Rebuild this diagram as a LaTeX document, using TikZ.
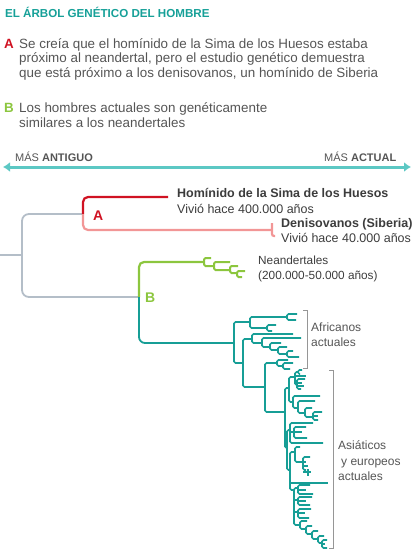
\documentclass[tikz,border=0pt]{standalone}
\usepackage{fontspec}
\setmainfont{Liberation Sans}
\usetikzlibrary{arrows.meta}
\definecolor{titleteal}{RGB}{22,160,152}
\definecolor{axisteal}{RGB}{92,200,196}
\definecolor{txtgray}{RGB}{85,85,85}
\definecolor{darktxt}{RGB}{60,60,60}
\definecolor{redA}{RGB}{208,18,34}
\definecolor{pinkA}{RGB}{242,150,150}
\definecolor{greenB}{RGB}{140,198,62}
\definecolor{tealtree}{RGB}{23,158,150}
\definecolor{graytree}{RGB}{180,190,200}
\definecolor{brk}{RGB}{150,150,150}
\newcommand\bk[6][]{\draw[#1] (#5,#3) -- (#2,#3) -- (#2,#4) -- (#6,#4);}
\newcommand\lf[3]{\draw (#1,#2) -- (#3,#2);}
\begin{document}
\begin{tikzpicture}[x=1pt,y=-1pt,
  txt/.style={inner sep=0pt, anchor=base west, text=txtgray, font=\fontsize{13.4}{14.5}\selectfont},
  lbl/.style={inner sep=0pt, anchor=base west, text=darktxt, font=\fontsize{12.5}{14}\selectfont},
  lblb/.style={lbl, font=\bfseries\fontsize{12.5}{14}\selectfont},
  small/.style={inner sep=0pt, anchor=base west, text=txtgray, font=\fontsize{12}{14}\selectfont},
  axl/.style={inner sep=0pt, anchor=base west, text=txtgray, font=\fontsize{11}{12}\selectfont},
  gbranch/.style={draw=graytree, line width=1.8pt, rounded corners=7pt},
  rbranch/.style={draw=redA, line width=2.2pt, rounded corners=5pt},
  pbranch/.style={draw=pinkA, line width=2.2pt, rounded corners=5pt},
  gnbranch/.style={draw=greenB, line width=2.2pt, rounded corners=5pt},
  tbranch/.style={draw=tealtree, line width=1.8pt, rounded corners=6pt},
  brkline/.style={draw=brk, line width=0.8pt},
]
\useasboundingbox (0,0) rectangle (414,560);

% title and notes
\node[inner sep=0pt, anchor=base west, text=titleteal, font=\bfseries\fontsize{11.6}{13}\selectfont] (title) at (5,17) {EL ÁRBOL GENÉTICO DEL HOMBRE};
\node[inner sep=0pt, anchor=base west, text=redA, font=\bfseries\fontsize{13.4}{13}\selectfont] (la) at (4,48) {A};
\node[txt] (a1) at (19,48) {Se creía que el homínido de la Sima de los Huesos estaba};
\node[txt] (a2) at (19,62.5) {próximo al neandertal, pero el estudio genético demuestra};
\node[txt] (a3) at (19,77) {que está próximo a los denisovanos, un homínido de Siberia};
\node[inner sep=0pt, anchor=base west, text=greenB, font=\bfseries\fontsize{13.4}{13}\selectfont] (lb) at (4,112) {B};
\node[txt] (b1) at (19,112) {Los hombres actuales son genéticamente};
\node[txt] (b2) at (19,127) {similares a los neandertales};

% axis
\node[axl] (ant) at (15,161) {MÁS \textbf{ANTIGUO}};
\node[axl] (act) at (324,161) {MÁS \textbf{ACTUAL}};
\coordinate (axl) at (3,167);
\coordinate (axr) at (411,167);
\draw[axisteal, line width=3pt, {Latex[length=7pt,width=10pt]}-{Latex[length=7pt,width=10pt]}] (axl) -- (axr);

% gray root
\draw[gbranch] (0,255) -- (22,255);
\draw[gbranch] (83,214) -- (22,214) -- (22,297) -- (139,297);

% A clade
\draw[rbranch] (83,214) -- (83,197) -- (168,197);
\draw[pbranch] (83,214) -- (83,230) -- (272,230);
\draw[pinkA, line width=2.2pt, rounded corners=2pt] (272,223) -- (272,236) -- (275,236);
\node[inner sep=0pt, anchor=base west, text=redA, font=\bfseries\fontsize{14}{14}\selectfont] (labA) at (93,220) {A};
\node[lblb] (hom) at (177,197) {Homínido de la Sima de los Huesos};
\node[lbl] (hom2) at (177,213) {Vivió hace 400.000 años};
\node[lblb] (den) at (281,227) {Denisovanos (Siberia)};
\node[lbl] (den2) at (281,242) {Vivió hace 40.000 años};

% B clade: neandertals
\draw[gnbranch] (139,297) -- (139,262) -- (204,262);
\begin{scope}[draw=greenB, line width=2pt, rounded corners=1.5pt]
\bk{204}{258}{266}{211}{214}
\bk{214}{262}{270}{230}{230}
\bk{230}{266}{273}{238}{237}
\bk{237}{271}{277}{245}{242}
\end{scope}
\node[inner sep=0pt, anchor=base west, text=greenB, font=\bfseries\fontsize{14}{14}\selectfont] (labB) at (145,302) {B};
\node[inner sep=0pt, anchor=base west, text=darktxt, font=\fontsize{11.8}{14}\selectfont] (nea) at (258,264) {Neandertales};
\node[inner sep=0pt, anchor=base west, text=darktxt, font=\fontsize{11.8}{14}\selectfont] (nea2) at (258,279) {(200.000-50.000 años)};

% modern humans
\draw[tbranch] (139,297) -- (139,343) -- (234,343);
\begin{scope}[draw=tealtree, line width=1.7pt, rounded corners=1.5pt]
% Africans
\bk{234}{322}{363}{250}{243}
\bk{250}{317}{328}{287}{267}
\bk{287}{314}{320}{297}{296}
\bk{267}{325}{331}{276}{272}
\bk{243}{339}{387}{252}{265}
\bk{252}{334}{343}{293}{262}
\bk{262}{338}{347}{301}{270}
\bk{270}{343}{350}{281}{278}
\bk{278}{347}{354}{287}{287}
\bk{287}{351}{357}{293}{299}
\bk{265}{363}{412}{277}{285}
\bk{277}{360}{366}{288}{283}
\bk{283}{363}{369}{293}{290}
% Asians and Europeans
\bk{285}{388}{448}{289}{287}
\bk{289}{377}{402}{295}{293}
\bk{295}{372}{385}{298}{297}
\bk{298}{370}{374}{302}{300}
\lf{295}{376}{306}
\bk{297}{379}{389}{305}{301}
\lf{297}{383}{302}
\lf{297}{386}{304}
\bk{293}{396}{408}{320}{298}
\bk{298}{401}{413}{315}{305}
\bk{305}{408}{417}{312}{313}
\bk{313}{412}{420}{322}{318}
\lf{313}{416}{318}
\bk{287}{430}{470}{290}{290}
\bk{290}{423}{443}{313}{323}
\lf{290}{432}{294}
\bk{294}{427}{438}{306}{307}
\lf{294}{432}{302}
\bk{290}{452}{490}{295}{294}
\lf{290}{483}{328}
\bk{295}{447}{462}{300}{303}
\bk{303}{457}{470}{310}{306}
\lf{303}{462}{306}
\lf{303}{466}{308}
\lf{303}{472}{311}
\draw (308,469) -- (308,476);
\bk{294}{488}{525}{298}{300}
\lf{294}{500}{298}
\lf{294}{512}{298}
\bk{298}{485}{494}{310}{313}
\lf{298}{490}{306}
\bk{298}{497}{505}{312}{310}
\lf{298}{501}{306}
\bk{298}{509}{518}{311}{309}
\lf{298}{513}{305}
\bk{300}{521}{529}{307}{306}
\bk{306}{526}{534}{312}{312}
\bk{312}{531}{539}{318}{318}
\bk{318}{536}{543}{324}{322}
\bk{322}{540}{548}{327}{327}
\lf{322}{544}{325}
\end{scope}

% group brackets and labels
\draw[brkline] (303,310) -- (307,310) -- (307,368) -- (303,368);
\draw[brkline] (329,370) -- (333,370) -- (333,548) -- (329,548);
\node[small] (af1) at (311,331) {Africanos};
\node[small] (af2) at (311,346) {actuales};
\node[small] (as1) at (338,449) {Asiáticos};
\node[small] (as2) at (341,465) {y europeos};
\node[small] (as3) at (338,480) {actuales};
\end{tikzpicture}
\end{document}
